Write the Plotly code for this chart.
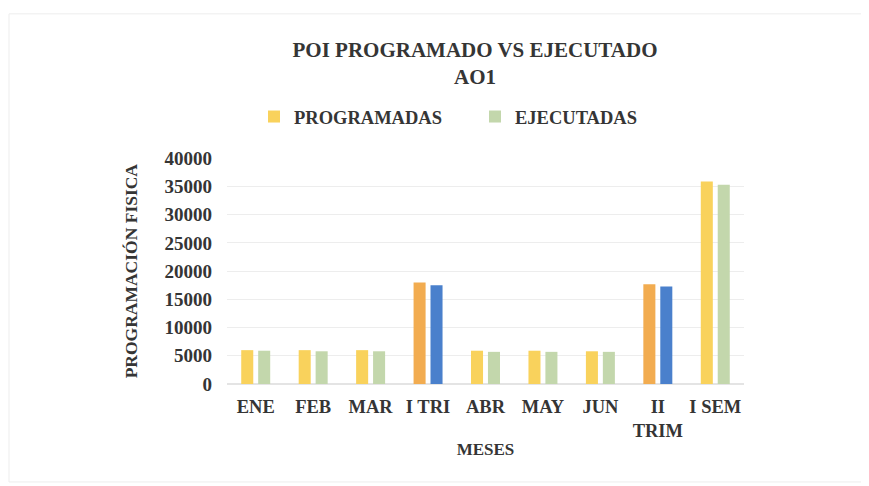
import plotly.graph_objects as go

categories = ["ENE", "FEB", "MAR", "I TRI", "ABR", "MAY", "JUN", "II<br>TRIM", "I SEM"]
programadas = [6000, 6000, 6000, 18000, 5900, 5900, 5800, 17700, 35900]
ejecutadas = [5900, 5800, 5800, 17500, 5700, 5700, 5700, 17300, 35300]

prog_colors = ["#F9D25C", "#F9D25C", "#F9D25C", "#F2AC50", "#F9D25C", "#F9D25C", "#F9D25C", "#F2AC50", "#F9D25C"]
ejec_colors = ["#C3D7AC", "#C3D7AC", "#C3D7AC", "#4A80CC", "#C3D7AC", "#C3D7AC", "#C3D7AC", "#4A80CC", "#C3D7AC"]

FONT = "Liberation Serif"
TXT = "#353535"

L, T, W, H = 219, 148, 517, 228

fig = go.Figure()
fig.add_trace(go.Bar(x=categories, y=programadas, name="<b>PROGRAMADAS</b>",
                     marker=dict(color=prog_colors, line=dict(width=0))))
fig.add_trace(go.Bar(x=categories, y=ejecutadas, name="<b>EJECUTADAS</b>",
                     marker=dict(color=ejec_colors, line=dict(width=0))))

fig.update_layout(
    width=869, height=486,
    margin=dict(l=L, r=869 - L - W, t=T, b=486 - T - H),
    paper_bgcolor="white", plot_bgcolor="white",
    barmode="group", bargap=0.41, bargroupgap=0.29,
    font=dict(family=FONT, color=TXT, size=17),
    title=dict(text="<b>POI PROGRAMADO VS EJECUTADO<br>AO1</b>",
               x=467/869, xanchor="center", xref="container",
               y=1-49/486, yanchor="top", yref="container",
               font=dict(family=FONT, size=21, color=TXT)),
    legend=dict(orientation="h", x=246/869, xanchor="left", xref="container",
                y=1-109/486, yanchor="middle", yref="container",
                font=dict(family=FONT, size=18.5, color=TXT),
                itemwidth=30, entrywidth=176, itemclick=False),
    showlegend=True,
)
fig.update_yaxes(range=[0, 40000], dtick=5000, tickformat="d", showgrid=True, gridcolor="#EDEDED",
                 gridwidth=1, zeroline=True, zerolinecolor="#E4E4E4", showline=False,
                 tickfont=dict(family=FONT, size=19, color=TXT, weight="bold"),
                 ticklabelstandoff=14,
                 title=dict(text="<b>PROGRAMACIÓN FISICA</b>", standoff=22,
                            font=dict(family=FONT, size=17.5, color=TXT)))
fig.update_xaxes(showline=False, ticks="", showgrid=False,
                 tickfont=dict(family=FONT, size=18.5, color=TXT, weight="bold"),
                 ticklabelstandoff=9,
                 title=dict(text="<b>MESES</b>", standoff=3,
                            font=dict(family=FONT, size=17, color=TXT)))

fig.add_shape(type="rect", xref="paper", yref="paper",
              x0=(1 - L) / W, x1=(858 - L) / W, y0=-(475 - T - H) / H, y1=1 + (T - 2) / H,
              line=dict(color="#EDEDED", width=1), fillcolor="rgba(0,0,0,0)", layer="below")

fig.write_html("out.html")
